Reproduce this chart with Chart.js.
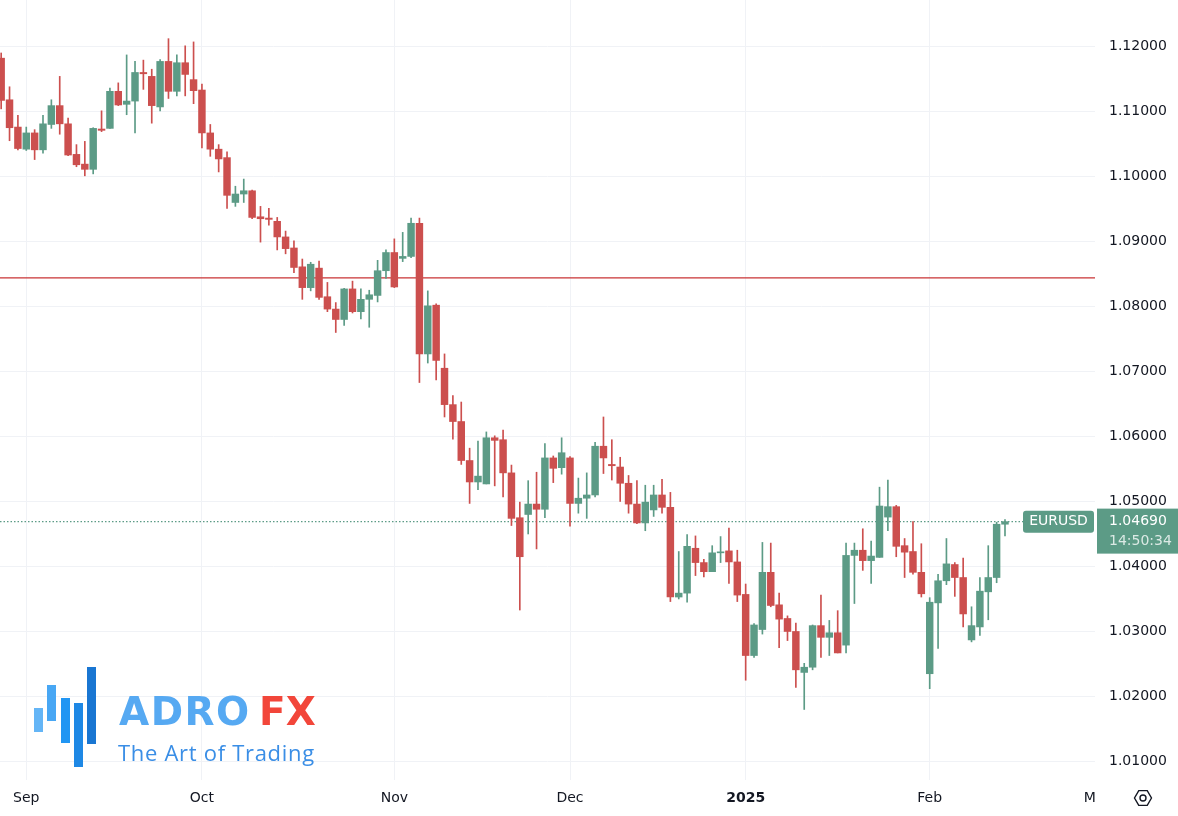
<!DOCTYPE html>
<html>
<head>
<meta charset="utf-8">
<title>EURUSD daily</title>
<script src="https://cdn.jsdelivr.net/npm/chart.js@4.4.1/dist/chart.umd.min.js"></script>
<style>
    html, body { margin: 0; padding: 0; background: #ffffff; }
    canvas { display: block; }
</style>
</head>
<body>
<canvas id="chart" width="1178" height="816"></canvas>
<script>
'use strict';

var days = [
    '2024-08-28', '2024-08-29', '2024-08-30',
    '2024-09-02', '2024-09-03', '2024-09-04', '2024-09-05', '2024-09-06',
    '2024-09-09', '2024-09-10', '2024-09-11', '2024-09-12', '2024-09-13',
    '2024-09-16', '2024-09-17', '2024-09-18', '2024-09-19', '2024-09-20',
    '2024-09-23', '2024-09-24', '2024-09-25', '2024-09-26', '2024-09-27',
    '2024-09-30', '2024-10-01', '2024-10-02', '2024-10-03', '2024-10-04',
    '2024-10-07', '2024-10-08', '2024-10-09', '2024-10-10', '2024-10-11',
    '2024-10-14', '2024-10-15', '2024-10-16', '2024-10-17', '2024-10-18',
    '2024-10-21', '2024-10-22', '2024-10-23', '2024-10-24', '2024-10-25',
    '2024-10-28', '2024-10-29', '2024-10-30', '2024-10-31', '2024-11-01',
    '2024-11-04', '2024-11-05', '2024-11-06', '2024-11-07', '2024-11-08',
    '2024-11-11', '2024-11-12', '2024-11-13', '2024-11-14', '2024-11-15',
    '2024-11-18', '2024-11-19', '2024-11-20', '2024-11-21', '2024-11-22',
    '2024-11-25', '2024-11-26', '2024-11-27', '2024-11-28', '2024-11-29',
    '2024-12-02', '2024-12-03', '2024-12-04', '2024-12-05', '2024-12-06',
    '2024-12-09', '2024-12-10', '2024-12-11', '2024-12-12', '2024-12-13',
    '2024-12-16', '2024-12-17', '2024-12-18', '2024-12-19', '2024-12-20',
    '2024-12-23', '2024-12-24', '2024-12-26', '2024-12-27',
    '2024-12-30', '2024-12-31', '2025-01-02', '2025-01-03',
    '2025-01-06', '2025-01-07', '2025-01-08', '2025-01-09', '2025-01-10',
    '2025-01-13', '2025-01-14', '2025-01-15', '2025-01-16', '2025-01-17',
    '2025-01-20', '2025-01-21', '2025-01-22', '2025-01-23', '2025-01-24',
    '2025-01-27', '2025-01-28', '2025-01-29', '2025-01-30', '2025-01-31',
    '2025-02-03', '2025-02-04', '2025-02-05', '2025-02-06', '2025-02-07',
    '2025-02-10', '2025-02-11', '2025-02-12', '2025-02-13', '2025-02-14'
];

var opens = [
    1.1182, 1.1118, 1.1076,
    1.1042, 1.1067, 1.1041, 1.1080, 1.1109,
    1.1081, 1.1034, 1.1019, 1.1011, 1.1073,
    1.1074, 1.1131, 1.1111, 1.1116, 1.1160,
    1.1154, 1.1107, 1.1177, 1.1131, 1.1175,
    1.1149, 1.1133, 1.1067, 1.1042, 1.1029,
    1.0960, 1.0973, 1.0978, 1.0938, 1.0936,
    1.0931, 1.0907, 1.0890, 1.0861, 1.0829,
    1.0859, 1.0815, 1.0796, 1.0780, 1.0827,
    1.0792, 1.0811, 1.0817, 1.0855, 1.0883,
    1.0874, 1.0877, 1.0928, 1.0727, 1.0802,
    1.0705, 1.0649, 1.0623, 1.0563, 1.0530,
    1.0527, 1.0598, 1.0595, 1.0544, 1.0475,
    1.0480, 1.0496, 1.0488, 1.0567, 1.0552,
    1.0567, 1.0497, 1.0505, 1.0510, 1.0585,
    1.0557, 1.0553, 1.0528, 1.0496, 1.0467,
    1.0487, 1.0510, 1.0491, 1.0353, 1.0359,
    1.0428, 1.0406, 1.0392, 1.0421,
    1.0424, 1.0407, 1.0357, 1.0263,
    1.0303, 1.0391, 1.0341, 1.0320, 1.0300,
    1.0237, 1.0245, 1.0309, 1.0291, 1.0298,
    1.0279, 1.0417, 1.0425, 1.0409, 1.0414,
    1.0476, 1.0492, 1.0432, 1.0423, 1.0391,
    1.0235, 1.0344, 1.0378, 1.0403, 1.0383,
    1.0287, 1.0307, 1.0361, 1.0383, 1.0465
];

var highs = [
    1.1190, 1.1138, 1.1094,
    1.1076, 1.1072, 1.1094, 1.1118, 1.1154,
    1.1090, 1.1049, 1.1054, 1.1075, 1.1101,
    1.1136, 1.1144, 1.1187, 1.1177, 1.1179,
    1.1165, 1.1180, 1.1212, 1.1187, 1.1201,
    1.1207, 1.1142, 1.1080, 1.1049, 1.1038,
    1.0985, 1.0996, 1.0979, 1.0954, 1.0951,
    1.0937, 1.0916, 1.0901, 1.0873, 1.0868,
    1.0870, 1.0837, 1.0806, 1.0828, 1.0839,
    1.0827, 1.0825, 1.0871, 1.0887, 1.0904,
    1.0914, 1.0936, 1.0936, 1.0824, 1.0804,
    1.0727, 1.0663, 1.0653, 1.0582, 1.0593,
    1.0607, 1.0601, 1.0610, 1.0556, 1.0499,
    1.0532, 1.0545, 1.0589, 1.0570, 1.0598,
    1.0569, 1.0536, 1.0544, 1.0591, 1.0630,
    1.0595, 1.0568, 1.0540, 1.0532, 1.0525,
    1.0525, 1.0534, 1.0514, 1.0423, 1.0449,
    1.0447, 1.0411, 1.0432, 1.0446,
    1.0459, 1.0425, 1.0373, 1.0312,
    1.0437, 1.0436, 1.0359, 1.0324, 1.0313,
    1.0251, 1.0310, 1.0356, 1.0317, 1.0332,
    1.0436, 1.0436, 1.0458, 1.0439, 1.0522,
    1.0533, 1.0494, 1.0443, 1.0469, 1.0435,
    1.0352, 1.0388, 1.0443, 1.0406, 1.0413,
    1.0338, 1.0383, 1.0432, 1.0468, 1.0472
];

var lows = [
    1.1104, 1.1055, 1.1041,
    1.1040, 1.1026, 1.1036, 1.1074, 1.1065,
    1.1032, 1.1015, 1.1001, 1.1004, 1.1069,
    1.1074, 1.1109, 1.1095, 1.1067, 1.1134,
    1.1082, 1.1101, 1.1120, 1.1124, 1.1124,
    1.1112, 1.1044, 1.1031, 1.1007, 1.0951,
    1.0954, 1.0960, 1.0935, 1.0899, 1.0925,
    1.0887, 1.0881, 1.0852, 1.0811, 1.0824,
    1.0811, 1.0792, 1.0760, 1.0771, 1.0790,
    1.0781, 1.0768, 1.0807, 1.0843, 1.0829,
    1.0869, 1.0875, 1.0683, 1.0713, 1.0687,
    1.0630, 1.0596, 1.0557, 1.0497, 1.0518,
    1.0527, 1.0524, 1.0507, 1.0463, 1.0333,
    1.0450, 1.0427, 1.0475, 1.0529, 1.0542,
    1.0462, 1.0482, 1.0474, 1.0507, 1.0543,
    1.0533, 1.0500, 1.0482, 1.0466, 1.0455,
    1.0477, 1.0482, 1.0346, 1.0350, 1.0345,
    1.0386, 1.0384, 1.0392, 1.0406,
    1.0374, 1.0346, 1.0225, 1.0260,
    1.0296, 1.0338, 1.0275, 1.0286, 1.0214,
    1.0180, 1.0241, 1.0260, 1.0263, 1.0267,
    1.0267, 1.0343, 1.0394, 1.0374, 1.0414,
    1.0455, 1.0415, 1.0383, 1.0388, 1.0353,
    1.0212, 1.0274, 1.0372, 1.0354, 1.0307,
    1.0284, 1.0294, 1.0318, 1.0375, 1.0447
];

var closes = [
    1.1117, 1.1075, 1.1043,
    1.1067, 1.1041, 1.1081, 1.1109, 1.1081,
    1.1033, 1.1018, 1.1011, 1.1074, 1.1071,
    1.1131, 1.1110, 1.1116, 1.1160, 1.1158,
    1.1109, 1.1177, 1.1131, 1.1175, 1.1157,
    1.1132, 1.1067, 1.1042, 1.1027, 1.0971,
    1.0973, 1.0978, 1.0937, 1.0935, 1.0934,
    1.0907, 1.0889, 1.0860, 1.0829, 1.0865,
    1.0814, 1.0796, 1.0780, 1.0827, 1.0792,
    1.0811, 1.0818, 1.0855, 1.0883, 1.0830,
    1.0877, 1.0928, 1.0727, 1.0801, 1.0717,
    1.0649, 1.0623, 1.0563, 1.0530, 1.0539,
    1.0598, 1.0594, 1.0544, 1.0474, 1.0415,
    1.0496, 1.0488, 1.0567, 1.0551, 1.0575,
    1.0497, 1.0505, 1.0510, 1.0585, 1.0567,
    1.0555, 1.0528, 1.0496, 1.0467, 1.0499,
    1.0510, 1.0491, 1.0353, 1.0359, 1.0431,
    1.0406, 1.0392, 1.0421, 1.0422,
    1.0407, 1.0356, 1.0263, 1.0310,
    1.0391, 1.0340, 1.0319, 1.0300, 1.0241,
    1.0245, 1.0309, 1.0291, 1.0298, 1.0267,
    1.0417, 1.0425, 1.0409, 1.0416, 1.0493,
    1.0492, 1.0431, 1.0422, 1.0391, 1.0358,
    1.0345, 1.0378, 1.0404, 1.0383, 1.0327,
    1.0309, 1.0362, 1.0383, 1.0465, 1.0469
];

// month marks on the time axis (bar index of first trading day)
var tickIdx = [3, 24, 47, 68, 89, 111, 131];
var tickLabels = ['Sep', 'Oct', 'Nov', 'Dec', '2025', 'Feb', 'Mar'];

var priceTicks = [1.01, 1.02, 1.03, 1.04, 1.05, 1.06, 1.07, 1.08, 1.09, 1.10, 1.11, 1.12];
var levelPrice = 1.0844;
var symbol = 'EURUSD';
var clockText = '14:50:34';

var GREEN = '#5c9b86';
var RED = '#cc4f4e';
var GRID = '#f0f2f6';
var TEXT = '#131722';
var FONT = '"DejaVu Sans", sans-serif';

var X_MIN = -0.14, X_MAX = 130.76;
var Y_MIN = 1.00715, Y_MAX = 1.12715;

var wickData = [], bodyData = [], barColors = [];
for (var i = 0; i < days.length; i++) {
    wickData.push({x: i, y: [lows[i], highs[i]]});
    bodyData.push({x: i, y: [opens[i], closes[i]]});
    barColors.push(closes[i] >= opens[i] ? GREEN : RED);
}
var lastClose = closes[closes.length - 1];

function roundRect(ctx, x, y, w, h, r) {
    ctx.beginPath();
    ctx.moveTo(x + r, y);
    ctx.lineTo(x + w - r, y);
    ctx.quadraticCurveTo(x + w, y, x + w, y + r);
    ctx.lineTo(x + w, y + h - r);
    ctx.quadraticCurveTo(x + w, y + h, x + w - r, y + h);
    ctx.lineTo(x + r, y + h);
    ctx.quadraticCurveTo(x, y + h, x, y + h - r);
    ctx.lineTo(x, y + r);
    ctx.quadraticCurveTo(x, y, x + r, y);
    ctx.closePath();
}

function noPadding(scale) {
    scale.paddingTop = 0;
    scale.paddingBottom = 0;
    scale.paddingLeft = 0;
    scale.paddingRight = 0;
}

// watermark, price tag, clipped month label, settings icon
var extras = {
    id: 'extras',
    afterDraw: function (chart) {
        var ctx = chart.ctx;
        var area = chart.chartArea;
        var xs = chart.scales.x, ys = chart.scales.y;

        // logo
        ctx.save();
        var bars = [[34, 708, 9, 24, '#64b5f6'], [47, 685, 9, 36, '#48a7f4'], [61, 698, 9, 45, '#2196f3'],
            [74, 703, 9, 64, '#1e88e5'], [87, 667, 9, 77, '#1976d2']];
        bars.forEach(function (b) {
            ctx.fillStyle = b[4];
            ctx.fillRect(b[0], b[1], b[2], b[3]);
        });
        ctx.textBaseline = 'alphabetic';
        ctx.textAlign = 'left';
        ctx.font = 'bold 39px "DejaVu Sans", sans-serif';
        ctx.letterSpacing = '1.5px';
        ctx.fillStyle = '#56a9f2';
        ctx.fillText('ADRO', 119, 725);
        ctx.fillStyle = '#f2463a';
        ctx.letterSpacing = '0px';
        ctx.fillText('FX', 259, 725);
        ctx.font = '22px "Open Sans", sans-serif';
        ctx.letterSpacing = '0.7px';
        ctx.fillStyle = '#3a8ee6';
        ctx.fillText('The Art of Trading', 118, 761);
        ctx.restore();

        // month label that falls past the right edge
        ctx.save();
        ctx.beginPath();
        ctx.rect(area.left, area.bottom, area.right - area.left, chart.height - area.bottom);
        ctx.clip();
        ctx.font = '14px ' + FONT;
        ctx.fillStyle = TEXT;
        ctx.textAlign = 'center';
        ctx.textBaseline = 'middle';
        tickIdx.forEach(function (v, k) {
            if (v > X_MAX) {
                ctx.fillText(tickLabels[k], xs.getPixelForValue(v), 798);
            }
        });
        ctx.restore();

        // last price tag
        var y = ys.getPixelForValue(lastClose);
        ctx.save();
        ctx.fillStyle = GREEN;
        roundRect(ctx, 1023, y - 11, 71, 22, 3);
        ctx.fill();
        ctx.fillRect(area.right + 2, y - 13, chart.width - area.right - 2, 45);
        ctx.font = '14px ' + FONT;
        ctx.textBaseline = 'middle';
        ctx.textAlign = 'center';
        ctx.fillStyle = '#ffffff';
        ctx.fillText(symbol, 1058.5, y);
        ctx.textAlign = 'left';
        ctx.fillText(lastClose.toFixed(5), 1109, y);
        ctx.fillStyle = 'rgba(255,255,255,0.78)';
        ctx.fillText(clockText, 1109, y + 20);
        ctx.restore();

        // settings icon
        ctx.save();
        ctx.strokeStyle = TEXT;
        ctx.lineWidth = 1.4;
        ctx.beginPath();
        for (var k = 0; k < 6; k++) {
            var a = Math.PI / 3 * k;
            var px = 1143 + 8.5 * Math.cos(a), py = 798 + 8.5 * Math.sin(a);
            if (k === 0) ctx.moveTo(px, py); else ctx.lineTo(px, py);
        }
        ctx.closePath();
        ctx.stroke();
        ctx.beginPath();
        ctx.arc(1143, 798, 3, 0, Math.PI * 2);
        ctx.stroke();
        ctx.restore();
    }
};

var ctx = document.getElementById('chart');
var chart = new Chart(ctx, {
    type: 'bar',
    data: {
        datasets: [
            {
                label: 'wick',
                data: wickData,
                backgroundColor: barColors,
                barThickness: 1,
                grouped: false,
                order: 2
            },
            {
                label: 'body',
                data: bodyData,
                backgroundColor: barColors,
                barThickness: 6.8,
                minBarLength: 1,
                grouped: false,
                order: 1
            },
            {
                type: 'line',
                label: 'level',
                data: [{x: X_MIN, y: levelPrice}, {x: X_MAX, y: levelPrice}],
                borderColor: '#c93334',
                borderWidth: 1.2,
                pointRadius: 0,
                order: 4
            },
            {
                type: 'line',
                label: 'last',
                data: [{x: X_MIN, y: lastClose}, {x: X_MAX, y: lastClose}],
                borderColor: GREEN,
                borderWidth: 1.2,
                borderDash: [1.5, 2],
                pointRadius: 0,
                order: 3
            }
        ]
    },
    options: {
        responsive: false,
        animation: false,
        events: [],
        layout: {padding: 0},
        plugins: {
            legend: {display: false},
            tooltip: {enabled: false}
        },
        scales: {
            x: {
                type: 'linear',
                min: X_MIN,
                max: X_MAX,
                offset: false,
                grid: {color: GRID, offset: false, drawTicks: false},
                border: {display: false},
                afterBuildTicks: function (scale) {
                    scale.ticks = tickIdx.filter(function (v) {
                        return v <= X_MAX;
                    }).map(function (v) {
                        return {value: v};
                    });
                },
                afterFit: function (scale) {
                    scale.height = 36;
                    noPadding(scale);
                },
                ticks: {
                    autoSkip: false,
                    maxRotation: 0,
                    padding: 10,
                    color: TEXT,
                    font: function (c) {
                        var bold = c.tick && c.tick.label === '2025';
                        return {family: FONT, size: 14, weight: bold ? 'bold' : 'normal'};
                    },
                    callback: function (value) {
                        var k = tickIdx.indexOf(value);
                        return k >= 0 ? tickLabels[k] : '';
                    }
                }
            },
            y: {
                position: 'right',
                min: Y_MIN,
                max: Y_MAX,
                grid: {color: GRID, drawTicks: false},
                border: {display: false},
                afterBuildTicks: function (scale) {
                    scale.ticks = priceTicks.map(function (v) {
                        return {value: v};
                    });
                },
                afterFit: function (scale) {
                    scale.width = 83;
                    noPadding(scale);
                },
                ticks: {
                    padding: 14,
                    color: TEXT,
                    font: {family: FONT, size: 14},
                    callback: function (value) {
                        return Number(value).toFixed(5);
                    }
                }
            }
        }
    },
    plugins: [extras]
});
</script>
</body>
</html>
